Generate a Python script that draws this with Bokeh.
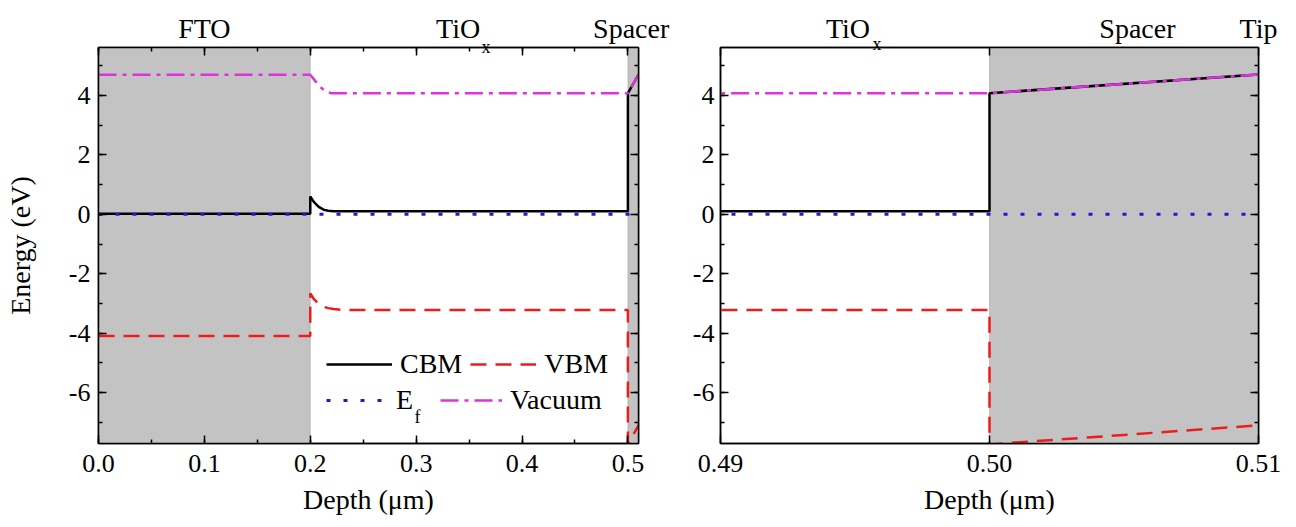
from bokeh.plotting import figure
from bokeh.models import (Range1d, LinearAxis, SingleIntervalTicker, FixedTicker,
                          PrintfTickFormatter, CustomJSTickFormatter, BoxAnnotation,
                          Label, Legend, LegendItem)
from bokeh.layouts import row
from bokeh.embed import file_html
from bokeh.resources import INLINE

# ---------------- data ----------------
cbm_depth = [0.0, 0.2, 0.2, 0.2035, 0.208, 0.213, 0.217, 0.222, 0.23, 0.5, 0.5, 0.51]
cbm_energy = [0.02, 0.02, 0.60, 0.41, 0.25, 0.15, 0.12, 0.105, 0.10, 0.10, 4.08, 4.71]

vbm_depth = [0.0, 0.2, 0.2, 0.2035, 0.208, 0.213, 0.217, 0.222, 0.23, 0.5, 0.5, 0.51]
vbm_energy = [-4.10, -4.10, -2.66, -2.86, -3.02, -3.12, -3.16, -3.19, -3.22, -3.22, -7.75, -7.11]

ef_depth = [0.0, 0.51]
ef_energy = [0.0, 0.0]

vac_depth = [0.0, 0.2, 0.205, 0.21, 0.215, 0.22, 0.5, 0.51]
vac_energy = [4.70, 4.70, 4.48, 4.27, 4.13, 4.08, 4.08, 4.71]

layer_names = ["FTO", "TiO", "Spacer"]
layer_left = [0.0, 0.2, 0.5]
layer_right = [0.2, 0.5, 0.51]
shaded = [True, False, True]
tiox_sub = "x"

series_names = ["CBM", "VBM", "E", "Vacuum"]
ef_sub = "f"

y_ticks_major = 2
energy_range = (-7.72, 5.62)

FONT = "Liberation Serif"


def name_fmt(names):
    return CustomJSTickFormatter(args=dict(names=names), code="return names[index]")


def empty_fmt():
    return CustomJSTickFormatter(code="return ''")


def style(ax):
    ax.axis_line_color = "black"
    ax.axis_line_width = 1.5
    ax.major_tick_in = 8
    ax.major_tick_out = 0
    ax.minor_tick_in = 4
    ax.minor_tick_out = 0
    ax.major_tick_line_width = 1.5
    ax.minor_tick_line_width = 1.5
    ax.major_tick_line_color = "black"
    ax.minor_tick_line_color = "black"
    ax.major_label_text_font = FONT
    ax.major_label_text_font_size = "26px"
    ax.major_label_text_color = "black"
    ax.axis_label_text_font = FONT
    ax.axis_label_text_font_size = "28px"
    ax.axis_label_text_font_style = "normal"
    ax.axis_label_text_color = "black"


def mirror_axis(ticker):
    ax = LinearAxis(ticker=ticker, formatter=empty_fmt())
    style(ax)
    ax.major_label_text_font_size = "0px"
    ax.major_label_standoff = 0
    return ax


def text_axis(positions, names, size, standoff):
    ax = LinearAxis(ticker=FixedTicker(ticks=positions, minor_ticks=[]),
                    formatter=name_fmt(names))
    ax.axis_line_color = None
    ax.major_tick_line_color = None
    ax.major_tick_in = 0
    ax.major_tick_out = 0
    ax.minor_tick_in = 0
    ax.minor_tick_out = 0
    ax.major_label_text_font = FONT
    ax.major_label_text_font_size = size
    ax.major_label_text_color = "black"
    ax.major_label_standoff = standoff
    return ax


def make_panel(x_range, tick_maker, fmt, border_left, frame_w, border_right, ylabel):
    p = figure(frame_width=frame_w, frame_height=396,
               min_border_left=border_left, min_border_right=border_right,
               min_border_top=47, min_border_bottom=84,
               x_range=Range1d(*x_range), y_range=Range1d(*energy_range),
               output_backend="svg", toolbar_location=None,
               background_fill_color="white", border_fill_color="white")
    p.xgrid.visible = False
    p.ygrid.visible = False
    p.outline_line_color = "black"
    p.outline_line_width = 1.5

    for l, r, s in zip(layer_left, layer_right, shaded):
        if s and r > x_range[0] and l < x_range[1]:
            p.add_layout(BoxAnnotation(left=max(l, x_range[0]), right=min(r, x_range[1]),
                                       fill_color="#c3c3c3", fill_alpha=1.0,
                                       line_color="#6e6e6e", line_width=1,
                                       level="underlay"))

    xb = p.xaxis[0]
    xb.ticker = tick_maker()
    xb.formatter = fmt
    xb.axis_label = "Depth (μm)"
    style(xb)
    xb.major_label_standoff = 11
    xb.axis_label_standoff = 9

    yl = p.yaxis[0]
    yl.ticker = SingleIntervalTicker(interval=y_ticks_major, num_minor_ticks=2)
    yl.formatter = PrintfTickFormatter(format="%d")
    style(yl)
    yl.major_label_standoff = 8
    if ylabel:
        yl.axis_label = ylabel
        yl.axis_label_standoff = 30

    p.add_layout(mirror_axis(tick_maker()), "above")
    p.add_layout(mirror_axis(SingleIntervalTicker(interval=y_ticks_major, num_minor_ticks=2)),
                 "right")

    r_cbm = p.line(cbm_depth, cbm_energy, line_color="black", line_width=2.5)
    r_vbm = p.line(vbm_depth, vbm_energy, line_color="#ee1c1c", line_width=2.5,
                   line_dash="16 9")
    r_ef = p.line(ef_depth, ef_energy, line_color="#1c1cc8", line_width=3,
                  line_dash="4 13")
    r_vac = p.line(vac_depth, vac_energy, line_color="#dd33dd", line_width=2.5,
                   line_dash="18 6 4 6")
    return p, (r_cbm, r_vbm, r_ef, r_vac)


def px(xr, fw, n):
    return n * (xr[1] - xr[0]) / fw


# ---------------- left panel ----------------
xr1, fw1 = (0.0, 0.51), 540
p1, (c1, v1, e1, a1) = make_panel(
    xr1, lambda: SingleIntervalTicker(interval=0.1, num_minor_ticks=2),
    PrintfTickFormatter(format="%.1f"), 98, fw1, 42, "Energy (eV)")

centers1 = [(l + r) / 2 for l, r in zip(layer_left, layer_right)]
tio1 = centers1[1] + px(xr1, fw1, -11)
p1.add_layout(text_axis([tio1 + px(xr1, fw1, 28)], [tiox_sub], "18px", -9), "above")
p1.add_layout(text_axis([centers1[0], tio1, centers1[2] - px(xr1, fw1, 2)],
                        layer_names, "28px", -10), "above")


def legend_row(items, loc, spacing, glyph_w):
    lg = Legend(items=items, location=loc, orientation="horizontal",
                border_line_color=None, background_fill_alpha=0.0,
                padding=0, margin=0, spacing=spacing,
                glyph_width=glyph_w, glyph_height=30, label_height=30,
                label_standoff=8, label_text_font=FONT,
                label_text_font_size="28px", label_text_color="black")
    p1.add_layout(lg, "center")


legend_row([LegendItem(label=series_names[0], renderers=[c1]),
            LegendItem(label=series_names[1], renderers=[v1])], (228, 63), 8, 66)
legend_row([LegendItem(label=series_names[2], renderers=[e1]),
            LegendItem(label=series_names[3], renderers=[a1])], (228, 27), 24, 62)
p1.add_layout(Label(x=316, y=27, x_units="screen", y_units="screen", text=ef_sub,
                    text_font=FONT, text_font_size="18px", text_color="black",
                    text_align="left", text_baseline="alphabetic"))

# ---------------- right panel ----------------
xr2, fw2 = (0.49, 0.51), 538
p2, _ = make_panel(
    xr2, lambda: FixedTicker(ticks=[0.49, 0.50, 0.51], minor_ticks=[]),
    PrintfTickFormatter(format="%.2f"), 40, fw2, 38, None)
p2.yaxis[0].major_label_standoff = 6

tio2 = 0.495 - px(xr2, fw2, 7)
p2.add_layout(text_axis([tio2 + px(xr2, fw2, 29)], [tiox_sub], "18px", -6), "above")
p2.add_layout(text_axis([tio2, 0.5055, xr2[1]], [layer_names[1], layer_names[2], "Tip"],
                        "28px", -13), "above")

layout = row(p1, p2)
open("out.html", "w").write(file_html(layout, INLINE))
